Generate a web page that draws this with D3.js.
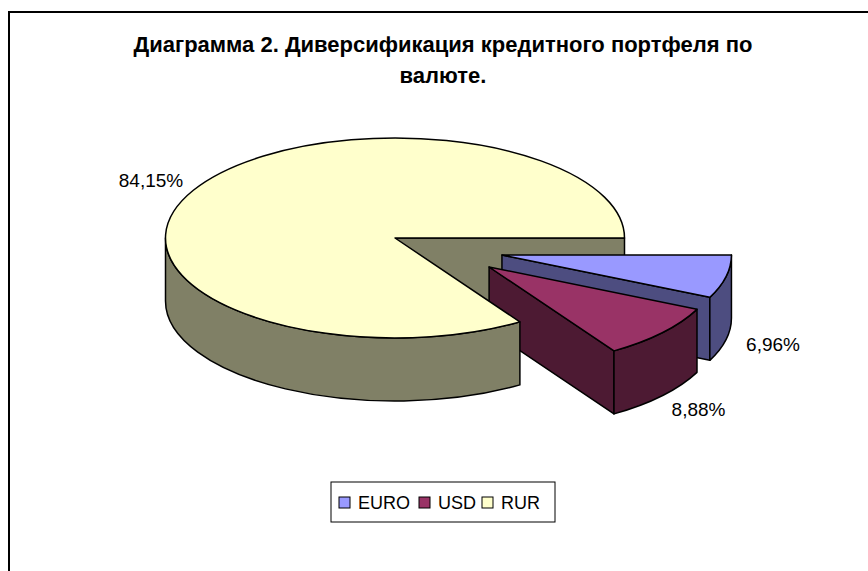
<!DOCTYPE html>
<html><head><meta charset="utf-8">
<script src="https://cdn.jsdelivr.net/npm/d3@7"></script>
<style>body{margin:0;background:#fff}svg{display:block}text{font-family:"Liberation Sans",Arial,sans-serif}</style>
</head><body>
<svg id="c" width="868" height="571"></svg>
<script>
const categories = ["EURO", "USD", "RUR"];
const values = [6.96, 8.88, 84.15];
const valueLabels = ["6,96%", "8,88%", "84,15%"];
const titleLines = ["Диаграмма 2. Диверсификация кредитного портфеля по", "валюте."];

const topColors = {EURO:"#9999FF", USD:"#993366", RUR:"#FFFFCC"};
const sideColors = {EURO:"#4D4D80", USD:"#4D1A33", RUR:"#808066"};
// explosion offset as fraction of (rx, ry)
const explode = {EURO:[0.466,0.17], USD:[0.41,0.29], RUR:[0,0]};

const W=868,H=571, cx=395, cy=238, rx=229.5, ry=100, depth=63;
const svg = d3.select("#c");

svg.append("rect").attr("x",9).attr("y",12).attr("width",W+20).attr("height",H+20)
  .attr("fill","none").attr("stroke","#000").attr("stroke-width",2);

const title = svg.append("text").attr("text-anchor","middle")
  .attr("font-weight","bold").attr("font-size",22);
titleLines.forEach((t,i)=>title.append("tspan").attr("x",443).attr("y",52+i*31).text(t));

const pie = d3.pie().sort(null).startAngle(Math.PI/2).endAngle(Math.PI/2+2*Math.PI);
const arcs = pie(values).map((d,i)=>({...d, name:categories[i], label:valueLabels[i]}));

const g = svg.append("g");
function pt(o,a,dz){return [o[0]+rx*Math.sin(a), o[1]-ry*Math.cos(a)+(dz||0)];}
function topPath(o,a0,a1){
  const p0=pt(o,a0), p1=pt(o,a1);
  return `M${o[0]},${o[1]}L${p0}A${rx},${ry} 0 ${a1-a0>Math.PI?1:0} 1 ${p1}Z`;
}
function wallPath(o,s,e){
  const t0=pt(o,s), t1=pt(o,e), b1=pt(o,e,depth), b0=pt(o,s,depth);
  const la = e-s>Math.PI?1:0;
  return `M${t0}A${rx},${ry} 0 ${la} 1 ${t1}L${b1}A${rx},${ry} 0 ${la} 0 ${b0}Z`;
}
function cutPath(o,a){
  const p=pt(o,a), pb=pt(o,a,depth);
  return `M${o[0]},${o[1]}L${p}L${pb}L${o[0]},${o[1]+depth}Z`;
}
function origin(d){const e=explode[d.name];return [cx+e[0]*rx, cy+e[1]*ry];}
function style(sel,fill){return sel.attr("fill",fill).attr("stroke","#000").attr("stroke-width",1.5).attr("stroke-linejoin","round");}

function drawCuts(d){
  const o=origin(d);
  if(Math.sin(d.startAngle)<0) style(g.append("path").attr("d",cutPath(o,d.startAngle)),sideColors[d.name]);
  if(Math.sin(d.endAngle)>0) style(g.append("path").attr("d",cutPath(o,d.endAngle)),sideColors[d.name]);
}
function drawWall(d){
  const o=origin(d);
  [[Math.PI/2,3*Math.PI/2],[Math.PI/2+2*Math.PI,3*Math.PI/2+2*Math.PI]].forEach(([lo,hi])=>{
    const s=Math.max(lo,d.startAngle), e=Math.min(hi,d.endAngle);
    if(e>s) style(g.append("path").attr("d",wallPath(o,s,e)),sideColors[d.name]);
  });
}
function drawTop(d){
  style(g.append("path").attr("d",topPath(origin(d),d.startAngle,d.endAngle)),topColors[d.name]);
}

const rur=arcs[2], euro=arcs[0], usd=arcs[1];
drawCuts(rur);
[euro,usd].forEach(d=>{drawCuts(d);drawWall(d);drawTop(d);});
drawWall(rur); drawTop(rur);

// labels
arcs.forEach(d=>{
  const o=origin(d), m=(d.startAngle+d.endAngle)/2, k=1.21;
  const c=Math.sin(m), s=-Math.cos(m);
  const x=o[0]+rx*c*k, y=o[1]+ry*s*k+(s>0?depth:0);
  svg.append("text").attr("x",x).attr("y",y).attr("text-anchor","middle")
    .attr("dominant-baseline","central").attr("font-size",19).attr("fill","#000").text(d.label);
});

// legend
const lg = svg.append("g");
lg.append("rect").attr("x",331).attr("y",482).attr("width",224).attr("height",40)
  .attr("fill","#fff").attr("stroke","#000").attr("stroke-width",1);
const lx=[339,419,482];
categories.forEach((c,i)=>{
  lg.append("rect").attr("x",lx[i]).attr("y",497).attr("width",11).attr("height",11)
    .attr("fill",topColors[c]).attr("stroke","#000").attr("stroke-width",1);
  lg.append("text").attr("x",lx[i]+19).attr("y",509).attr("font-size",18).text(c);
});
</script>
</body></html>
